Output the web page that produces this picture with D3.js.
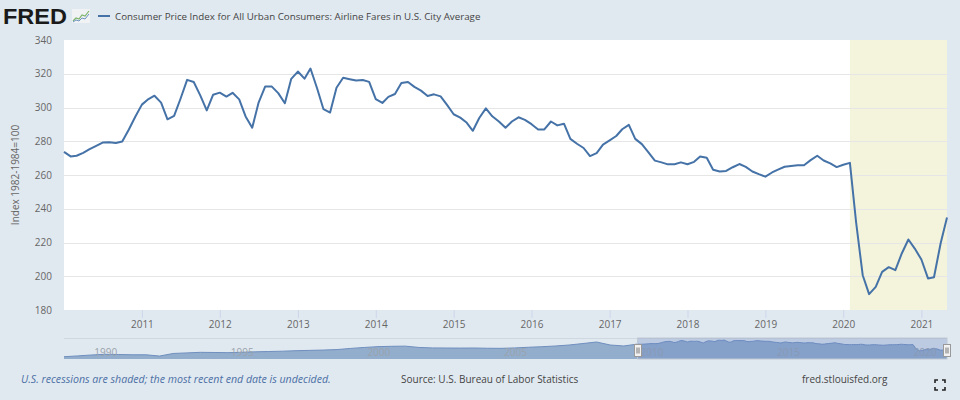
<!DOCTYPE html>
<html><head><meta charset="utf-8">
<script src="https://cdn.jsdelivr.net/npm/d3@7"></script>
<style>
html,body{margin:0;padding:0;background:#e1e9f0;}
svg{display:block;font-family:"Open Sans",sans-serif;}
</style></head>
<body>
<svg id="c" width="960" height="400"></svg>
<script>
// ---- data ----
const startMonth = "2010-01";
const values = [
 273.7,271.0,271.4,273.1,275.3,277.3,279.2,279.4,279.0,279.8,287.0,294.5,
 301.7,305.0,307.0,302.9,293.0,295.0,305.2,316.4,315.1,307.3,298.3,307.6,
 308.8,306.5,308.7,304.8,294.7,288.0,302.9,312.5,312.4,308.5,302.5,317.0,
 321.3,317.1,323.1,311.4,299.0,297.0,311.7,317.6,316.8,316.0,316.3,315.2,
 305.0,302.7,306.3,308.0,314.5,315.1,312.2,310.0,306.8,307.8,306.6,301.5,
 296.0,294.0,291.3,286.2,293.8,299.5,294.8,291.7,288.0,291.7,294.2,292.7,
 290.1,287.0,287.0,291.7,289.4,290.4,281.4,278.5,276.0,271.2,273.0,278.0,
 280.5,283.1,287.1,289.7,281.4,278.3,273.6,268.5,267.5,266.3,266.4,267.5,
 266.4,267.8,270.9,270.2,263.1,262.1,262.4,264.6,266.5,264.8,262.1,260.5,
 259.0,261.5,263.2,264.9,265.4,265.8,265.8,268.8,271.4,268.6,266.9,264.7,
 266.1,267.2,232.0,200.6,189.4,193.7,202.6,205.4,203.6,213.5,221.8,216.4,
 209.9,198.7,199.4,219.4,234.8
];
// navigator history before 2010 (approximate, half-yearly)
const navDates = ["1989-01","1989-07","1990-01","1990-07","1991-01","1991-07","1992-01","1992-07",
 "1993-01","1993-07","1994-01","1994-07","1995-01","1995-07","1996-01","1996-07","1997-01","1997-07",
 "1998-01","1998-07","1999-01","1999-07","2000-01","2000-07","2001-01","2001-07","2002-01","2002-07",
 "2003-01","2003-07","2004-01","2004-07","2005-01","2005-07","2006-01","2006-07","2007-01","2007-07",
 "2008-01","2008-07","2009-01","2009-07"];
const navValues = [118,128,139,148,145,142,142,126,158,165,172,170,168,172,178,182,186,192,
 196,200,206,220,232,242,246,248,232,226,225,224,225,222,221,226,234,241,250,262,280,299,262,250];
const yTicks = [180,200,220,240,260,280,300,320,340];
const xTickYears = [2011,2012,2013,2014,2015,2016,2017,2018,2019,2020,2021];
const navTickYears = [1990,1995,2000,2005,2010,2015,2020];
const recession = ["2020-02", "2021-05"];
const title = "Consumer Price Index for All Urban Consumers: Airline Fares in U.S. City Average";
const yTitle = "Index 1982-1984=100";
const noteText = "U.S. recessions are shaded; the most recent end date is undecided.";
const sourceText = "Source: U.S. Bureau of Labor Statistics";
const siteText = "fred.stlouisfed.org";

const parse = d3.timeParse("%Y-%m");
const t0 = parse(startMonth);
const data = values.map((v,i)=>({date:d3.timeMonth.offset(t0,i), v}));
const navData = navDates.map((d,i)=>({date:parse(d), v:navValues[i]})).concat(data);

const svg = d3.select("#c");
const L=64, R=947, T=40, B=310;
const x = d3.scaleTime().domain([data[0].date, data[data.length-1].date]).range([L,R]);
const y = d3.scaleLinear().domain([180,340]).range([B,T]);

// plot background
svg.append("rect").attr("x",L).attr("y",T).attr("width",R-L).attr("height",B-T).attr("fill","#fff");
// recession band
svg.append("rect").attr("x",x(parse(recession[0]))).attr("y",T)
  .attr("width",x(parse(recession[1]))-x(parse(recession[0]))).attr("height",B-T).attr("fill","#f4f4dc");
// grid
svg.append("g").selectAll("line").data(yTicks.slice(1,-1)).join("line")
  .attr("x1",L).attr("x2",R).attr("y1",d=>Math.round(y(d))+0.5).attr("y2",d=>Math.round(y(d))+0.5)
  .attr("stroke","#e6e6e6").attr("stroke-width",1);
// y labels
svg.append("g").selectAll("text").data(yTicks).join("text")
  .attr("x",52).attr("y",d=>y(d)+3.5).attr("text-anchor","end")
  .attr("font-size",10).attr("fill","#666").text(d=>d);
// y title
svg.append("text").attr("transform",`translate(19,${(T+B)/2}) rotate(-90)`)
  .attr("text-anchor","middle").attr("font-size",10).attr("fill","#666").text(yTitle);
// x axis
const xAxis = d3.axisBottom(x).tickValues(xTickYears.map(yr=>new Date(yr,0,1)))
  .tickFormat(d3.timeFormat("%Y")).tickSize(8).tickPadding(3);
const gx = svg.append("g").attr("transform",`translate(0,${B})`).call(xAxis);
gx.select(".domain").remove();
gx.selectAll(".tick line").attr("stroke","#ccd6eb");
gx.selectAll(".tick text").attr("font-size",10).attr("fill","#666").attr("font-family","Open Sans");
// series
svg.append("path").datum(data)
  .attr("d",d3.line().x(d=>x(d.date)).y(d=>y(d.v)))
  .attr("fill","none").attr("stroke","#4572a7").attr("stroke-width",2).attr("stroke-linejoin","round");

// ---- navigator ----
const nT=338, nB=359;
const nx = d3.scaleTime().domain([navData[0].date, navData[navData.length-1].date]).range([L,R]);
const ny = d3.scaleLinear().domain([90,348]).range([nB,nT]);
svg.append("line").attr("x1",L).attr("x2",R).attr("y1",nT+0.5).attr("y2",nT+0.5).attr("stroke","#cfd8e0");
svg.append("path").datum(navData)
  .attr("d",d3.area().x(d=>nx(d.date)).y0(nB).y1(d=>ny(d.v)))
  .attr("fill","rgba(69,114,167,0.5)");
svg.append("path").datum(navData)
  .attr("d",d3.line().x(d=>nx(d.date)).y(d=>ny(d.v)))
  .attr("fill","none").attr("stroke","#6f8fbf").attr("stroke-width",1);
svg.append("g").selectAll("text").data(navTickYears).join("text")
  .attr("x",d=>nx(new Date(d,0,1))+3).attr("y",356).attr("font-size",10).attr("fill","#9aa3ad").text(d=>d);
const m0 = nx(data[0].date), m1 = nx(data[data.length-1].date);
svg.append("rect").attr("x",m0).attr("y",nT).attr("width",m1-m0).attr("height",nB-nT)
  .attr("fill","rgba(102,133,194,0.3)");
svg.append("rect").attr("x",m0).attr("y",nT).attr("width",m1-m0).attr("height",nB-nT)
  .attr("fill","none").attr("stroke","#c0c8d4");
[m0,m1].forEach(px=>{
  const g = svg.append("g").attr("transform",`translate(${Math.round(px)-3.5},344.5)`);
  g.append("rect").attr("width",7).attr("height",12).attr("fill","#f2f2f2").attr("stroke","#999");
  g.append("line").attr("x1",2.5).attr("x2",2.5).attr("y1",3).attr("y2",9).attr("stroke","#777");
  g.append("line").attr("x1",4.5).attr("x2",4.5).attr("y1",3).attr("y2",9).attr("stroke","#777");
});

// ---- header ----
svg.append("text").attr("x",3).attr("y",24).attr("font-family","Liberation Sans, Arial, sans-serif")
  .attr("font-weight",900).attr("font-size",22.5).attr("textLength",64).attr("lengthAdjust","spacingAndGlyphs")
  .attr("fill","#1a1a1a").text("FRED");
const ic = svg.append("g").attr("transform","translate(72,9)");
ic.append("rect").attr("width",18).attr("height",14).attr("fill","#f0f2f4");
ic.append("polyline").attr("points","1,12 4,9 7,10 10,6 13,7 17,2").attr("fill","none").attr("stroke","#7db46c").attr("stroke-width",1.2);
ic.append("polyline").attr("points","1,13 4,11 7,12 10,9 13,10 17,5").attr("fill","none").attr("stroke","#6f93c4").attr("stroke-width",1);
svg.append("line").attr("x1",98).attr("x2",110).attr("y1",16).attr("y2",16).attr("stroke","#4572a7").attr("stroke-width",2);
svg.append("text").attr("x",115).attr("y",20).attr("font-size",9.75).attr("fill","#444").text(title);

// ---- footer ----
svg.append("text").attr("x",21).attr("y",383).attr("font-size",10.6).attr("font-style","italic")
  .attr("fill","#4a6fa5").text(noteText);
svg.append("text").attr("x",401).attr("y",383).attr("font-size",10).attr("fill","#444").text(sourceText);
svg.append("text").attr("x",802).attr("y",383).attr("font-size",10).attr("fill","#444").text(siteText);
const fs = svg.append("g").attr("transform","translate(935,380)").attr("stroke","#222").attr("stroke-width",1.6).attr("fill","none");
fs.append("path").attr("d","M0,3V0H3 M7,0H10V3 M10,7V10H7 M3,10H0V7");
</script>
</body></html>
